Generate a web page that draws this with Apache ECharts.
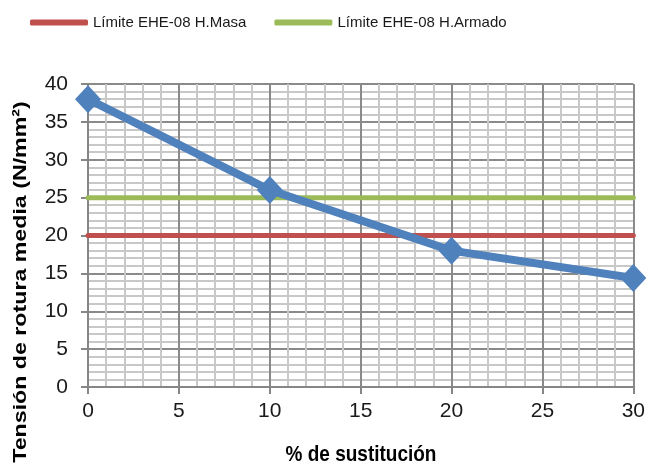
<!DOCTYPE html>
<html>
<head>
<meta charset="utf-8">
<script src="https://cdn.jsdelivr.net/npm/echarts@6/dist/echarts.min.js"></script>
<style>
  html, body { margin: 0; padding: 0; background: #fff; }
  #chart { width: 648px; height: 467px; }
</style>
</head>
<body>
<div id="chart"></div>
<script>
// Porcentaje de sustitución y tensión de rotura media medida
const sustitucion = [0, 10, 20, 30];
const tensionMedia = [38, 26, 18, 14.4];

// Límites de la instrucción EHE-08 (N/mm²)
const limiteMasa = 20;
const limiteArmado = 25;
const xRange = [0, 30];

const nombreMasa = 'Límite EHE-08 H.Masa';
const nombreArmado = 'Límite EHE-08 H.Armado';
const tituloX = '% de sustitución';
const tituloY = 'Tensión de rotura media (N/mm²)';

const FONT = '"Liberation Sans", Arial, sans-serif';

const chart = echarts.init(document.getElementById('chart'), null, { renderer: 'canvas' });

chart.setOption({
  animation: false,
  backgroundColor: '#ffffff',
  textStyle: { fontFamily: FONT },
  grid: { left: 88, right: 14, top: 84, bottom: 80 },
  legend: {
    data: [nombreMasa, nombreArmado],
    left: 25,
    top: 10,
    icon: 'roundRect',
    itemWidth: 58,
    itemHeight: 6,
    itemGap: 28,
    textStyle: { fontFamily: FONT, fontSize: 15, color: '#1a1a1a' }
  },
  xAxis: {
    type: 'value',
    min: 0, max: 30, interval: 5,
    axisLine: { show: true, lineStyle: { color: '#868686', width: 2 } },
    axisTick: { show: true, length: 7, lineStyle: { color: '#868686', width: 2 } },
    axisLabel: { fontSize: 21, color: '#1a1a1a', margin: 14, fontFamily: FONT },
    splitLine: { show: true, lineStyle: { color: '#8a8a8a', width: 2 } },
    minorTick: { show: false, splitNumber: 5 },
    minorSplitLine: { show: true, lineStyle: { color: '#c8c8c8', width: 2 } }
  },
  yAxis: {
    type: 'value',
    min: 0, max: 40, interval: 5,
    axisLine: { show: true, lineStyle: { color: '#868686', width: 2 } },
    axisTick: { show: true, length: 7, lineStyle: { color: '#868686', width: 2 } },
    axisLabel: { fontSize: 21, color: '#1a1a1a', margin: 20, fontFamily: FONT },
    splitLine: { show: true, lineStyle: { color: '#8a8a8a', width: 2 } },
    minorTick: { show: false, splitNumber: 5 },
    minorSplitLine: { show: true, lineStyle: { color: '#c8c8c8', width: 2 } }
  },
  graphic: [
    {
      type: 'text',
      x: 21, y: 282,
      rotation: Math.PI / 2,
      scaleX: 1.22,
      style: {
        text: tituloY,
        font: 'bold 19px ' + FONT,
        fill: '#000',
        textAlign: 'center',
        textVerticalAlign: 'middle'
      }
    },
    {
      type: 'text',
      x: 361, y: 455,
      scaleY: 1.2,
      style: {
        text: tituloX,
        font: 'bold 19px ' + FONT,
        fill: '#000',
        textAlign: 'center',
        textVerticalAlign: 'middle'
      }
    }
  ],
  series: [
    {
      name: nombreMasa,
      type: 'line',
      data: xRange.map(x => [x, limiteMasa]),
      symbol: 'none',
      lineStyle: { color: '#C0504D', width: 5, cap: 'round' },
      itemStyle: { color: '#C0504D' },
      z: 2
    },
    {
      name: nombreArmado,
      type: 'line',
      data: xRange.map(x => [x, limiteArmado]),
      symbol: 'none',
      lineStyle: { color: '#9BBB59', width: 5, cap: 'round' },
      itemStyle: { color: '#9BBB59' },
      z: 2
    },
    {
      name: 'Tensión media',
      type: 'line',
      data: sustitucion.map((x, i) => [x, tensionMedia[i]]),
      symbol: 'diamond',
      symbolSize: [26, 28],
      lineStyle: { color: '#4F81BD', width: 8 },
      itemStyle: { color: '#4F81BD' },
      z: 3
    }
  ]
});
</script>
</body>
</html>
